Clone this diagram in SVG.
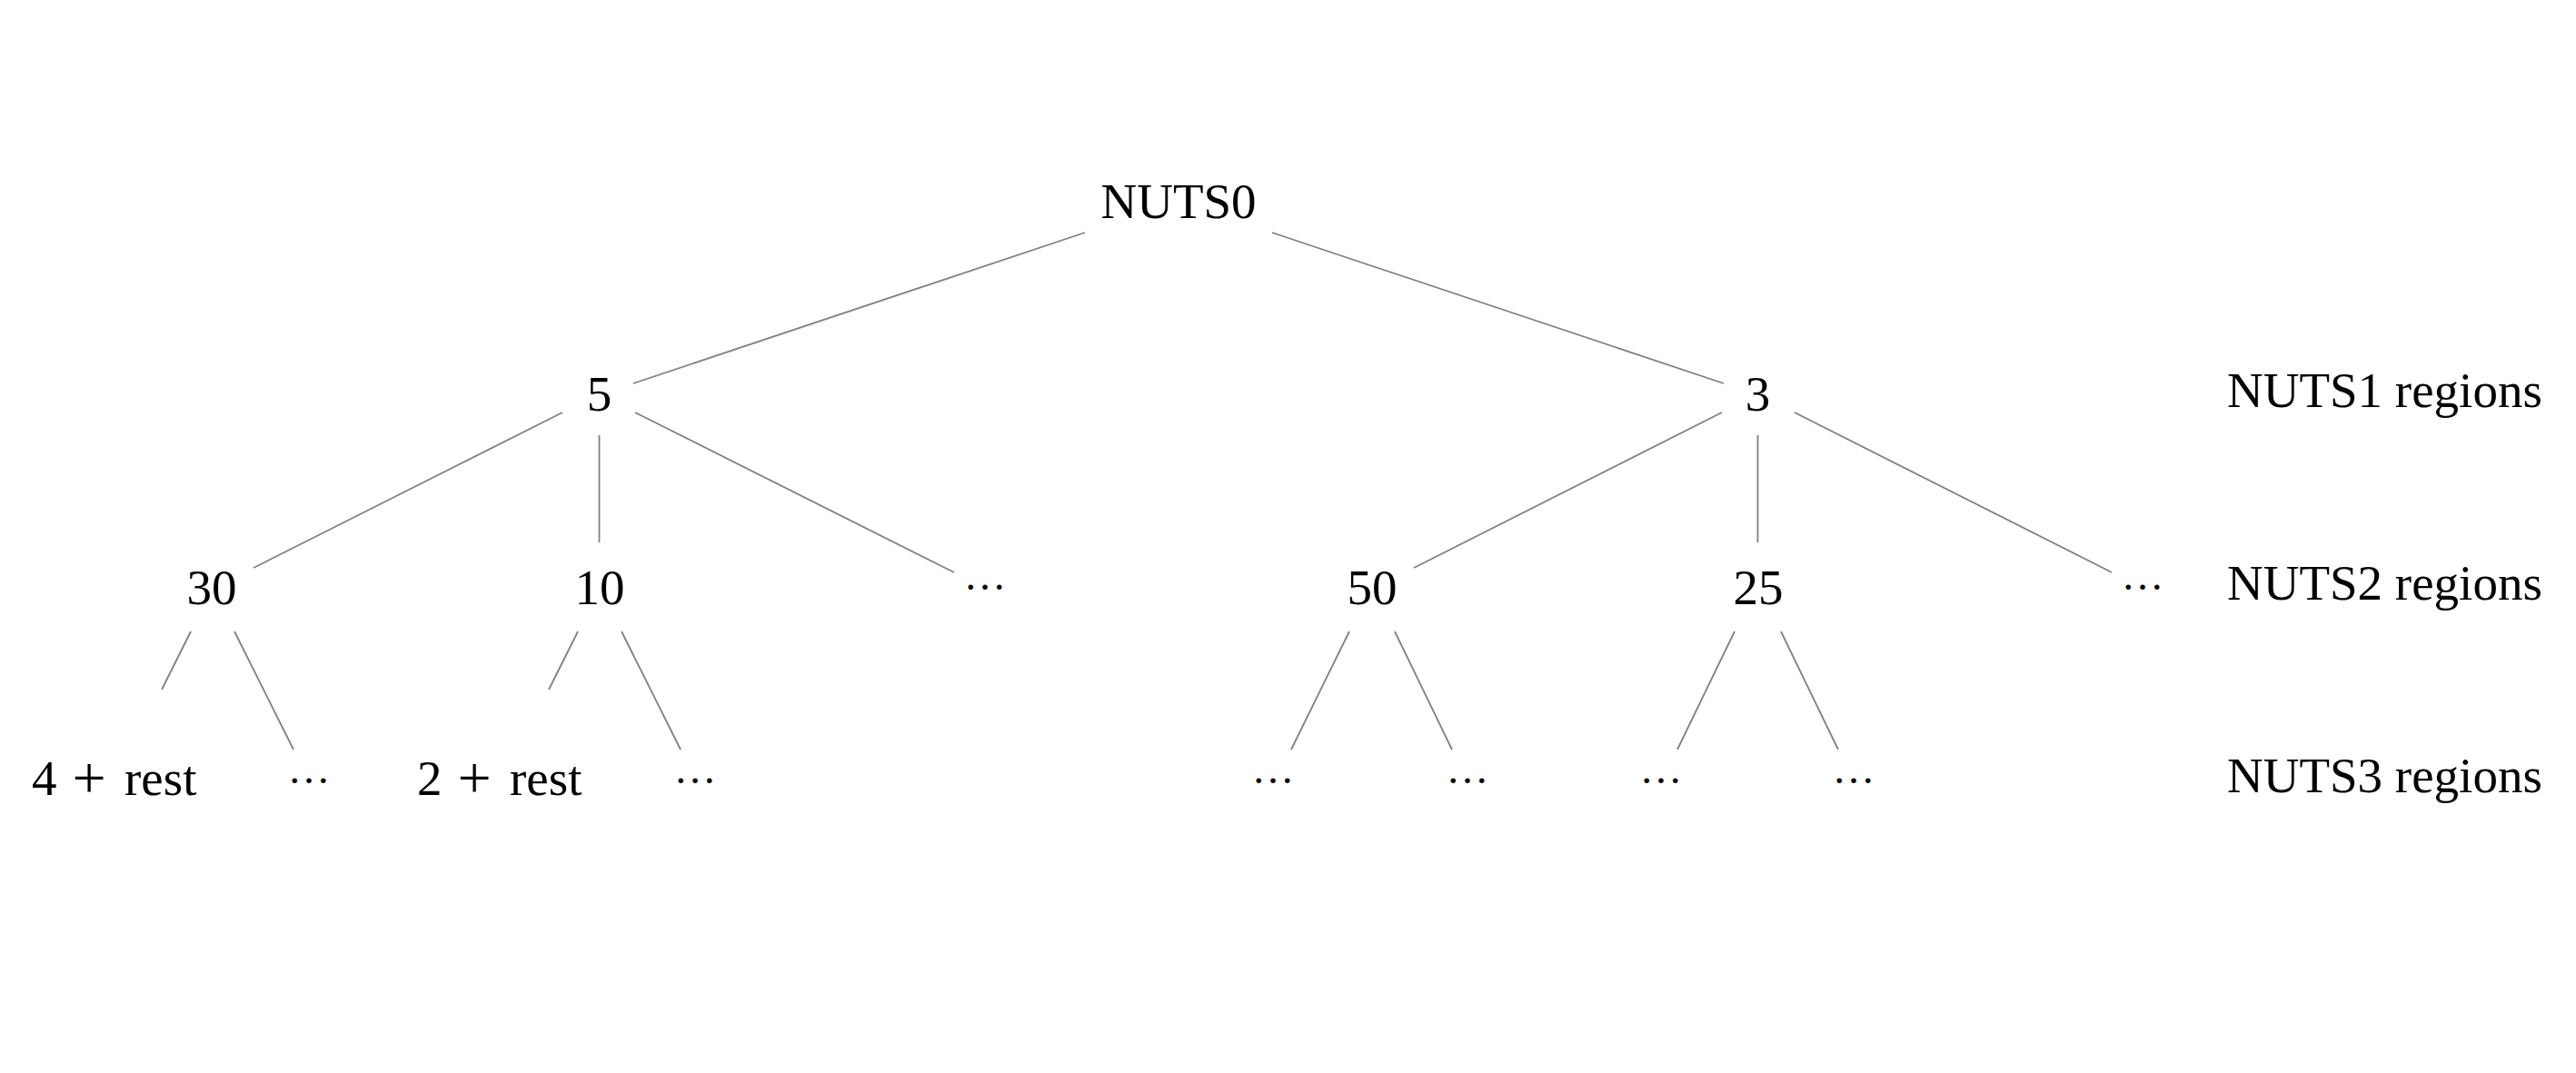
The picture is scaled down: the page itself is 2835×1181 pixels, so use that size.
<svg xmlns="http://www.w3.org/2000/svg" width="2835" height="1181" viewBox="0 0 2835 1181">
<style>
text{font-family:"Liberation Serif","Times New Roman",serif;font-size:55px;fill:#000}
.c{text-anchor:middle}
.d{text-anchor:middle;font-size:47px}
.p{font-size:66px}
line{stroke:#808080;stroke-width:1.8;fill:none}
</style>
<rect width="2835" height="1181" fill="#fff"/>
<g id="connectors">
<line x1="1194" y1="256" x2="697" y2="422"/>
<line x1="1400" y1="256" x2="1897" y2="422"/>
<line x1="619" y1="454" x2="279" y2="625"/>
<line x1="659.5" y1="479" x2="659.5" y2="597"/>
<line x1="699" y1="454" x2="1050" y2="630"/>
<line x1="1895" y1="454" x2="1556" y2="625"/>
<line x1="1934.5" y1="479" x2="1934.5" y2="597"/>
<line x1="1975" y1="454" x2="2324" y2="630"/>
<line x1="210" y1="695" x2="178" y2="759"/>
<line x1="258" y1="695" x2="323" y2="825"/>
<line x1="636" y1="695" x2="604" y2="759"/>
<line x1="684" y1="695" x2="749" y2="825"/>
<line x1="1485" y1="695" x2="1421" y2="825"/>
<line x1="1535" y1="695" x2="1598" y2="825"/>
<line x1="1909" y1="695" x2="1846" y2="825"/>
<line x1="1960" y1="695" x2="2023" y2="825"/>
</g>
<g id="n0"><text class="c" x="1297" y="240">NUTS0</text></g>
<g id="n1a"><text class="c" x="659.5" y="452">5</text></g>
<g id="n1b"><text class="c" x="1934.5" y="452">3</text></g>
<g id="n2a"><text class="c" x="233" y="665">30</text></g>
<g id="n2b"><text class="c" x="660" y="665">10</text></g>
<g id="n2c"><text class="d" x="1084" y="649">…</text></g>
<g id="n2d"><text class="c" x="1510" y="665">50</text></g>
<g id="n2e"><text class="c" x="1935" y="665">25</text></g>
<g id="n2f"><text class="d" x="2358" y="649">…</text></g>
<g id="n3a"><text y="875"><tspan x="35">4</tspan><tspan class="p" x="98" y="878" text-anchor="middle">+</tspan><tspan x="137" y="875">rest</tspan></text></g>
<g id="n3b"><text class="d" x="340" y="862">…</text></g>
<g id="n3c"><text y="875"><tspan x="459">2</tspan><tspan class="p" x="522" y="878" text-anchor="middle">+</tspan><tspan x="561" y="875">rest</tspan></text></g>
<g id="n3d"><text class="d" x="765" y="862">…</text></g>
<g id="n3e"><text class="d" x="1401" y="862">…</text></g>
<g id="n3f"><text class="d" x="1615" y="862">…</text></g>
<g id="n3g"><text class="d" x="1828" y="862">…</text></g>
<g id="n3h"><text class="d" x="2040" y="862">…</text></g>
<g id="l1"><text x="2451" y="448">NUTS1 regions</text></g>
<g id="l2"><text x="2451" y="660">NUTS2 regions</text></g>
<g id="l3"><text x="2451" y="872">NUTS3 regions</text></g>
</svg>
